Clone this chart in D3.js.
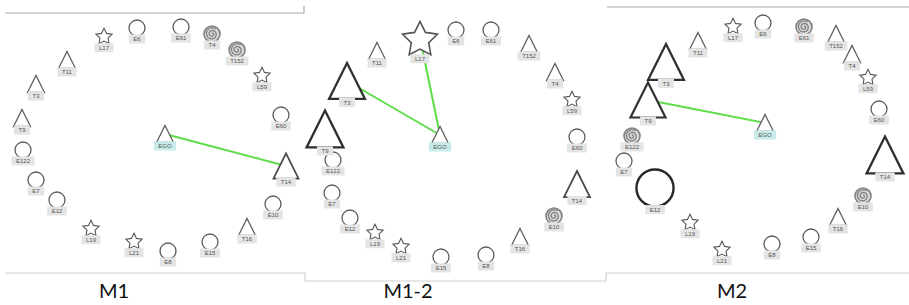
<!DOCTYPE html>
<html>
<head>
<meta charset="utf-8">
<script src="https://cdn.jsdelivr.net/npm/d3@7"></script>
<style>
  body { margin: 0; background: #fff; }
  svg { display: block; }
  .tag rect { fill: #e4e4e4; }
  .tag text { font: 6px "Liberation Sans", Arial, sans-serif; fill: #555; }
  .tag.ego rect { fill: #c8ebea; }
  .title { font: 20px Lato, "Open Sans", sans-serif; fill: #111; }
  .frame { fill: none; stroke: #cfcfcf; stroke-width: 1.2; }
</style>
</head>
<body>
<svg id="chart" width="909" height="305"></svg>
<script>
// node ids, same order for every panel
const nodeIds = ['EGO', 'L17', 'E6', 'E61', 'T4', 'T152', 'L59', 'E60', 'T14', 'E10', 'T16',
  'E15', 'E8', 'L21', 'L19', 'E12', 'E7', 'E122', 'T9', 'T3', 'T11'];
const panelTitles = ['M1', 'M1-2', 'M2'];

// layout coordinates (0..300 per panel)
const m1X = [165, 104, 137, 181, 212, 237, 262, 281, 286, 273, 247, 210, 168, 134, 91, 57, 36, 23, 22, 36, 67];
const m1Y = [134, 36, 28, 27, 34, 50, 75, 115, 166, 204, 227, 242, 251, 241, 228, 200, 180, 150, 118, 84, 60];
const m1Weight = [1, 1, 1, 1, 1, 1, 1, 1, 1.45, 1, 1, 1, 1, 1, 1, 1, 1, 1, 1, 1, 1];
const m1Spirals = ['T4', 'T152'];
const m1Links = [['EGO', 'T14']];

const m12X = [140, 120, 156, 191, 255, 229, 272, 277, 277, 254, 220, 141, 186, 101, 75, 50, 32, 33, 25, 47, 77];
const m12Y = [135, 38, 30, 30, 72, 44, 99, 137, 184, 216, 237, 257, 255, 246, 232, 218, 193, 160, 129, 81, 51];
const m12Weight = [1, 2.1, 1, 1, 1, 1, 1, 1, 1.5, 1, 1, 1, 1, 1, 1, 1, 1, 1, 2.1, 2.05, 1];
const m12Spirals = ['E10'];
const m12Links = [['EGO', 'T3'], ['EGO', 'L17']];

const m2X = [165, 133, 163, 204, 252, 236, 268, 279, 285, 263, 238, 211, 172, 122, 90, 55, 24, 32, 48, 66, 98];
const m2Y = [123, 26, 23, 27, 54, 34, 77, 109, 155, 196, 217, 237, 244, 249, 222, 188, 161, 136, 100, 62, 41];
const m2Weight = [1, 1, 1, 1, 1, 1, 1, 1, 2.1, 1, 1, 1, 1, 1, 1, 2.25, 1, 1, 2.0, 2.05, 1];
const m2Spirals = ['E61', 'E122', 'E10'];
const m2Links = [['EGO', 'T9']];

const panels = [
  { title: panelTitles[0], left: 0, xs: m1X, ys: m1Y, weights: m1Weight, spirals: m1Spirals, links: m1Links, titleX: 114 },
  { title: panelTitles[1], left: 300, xs: m12X, ys: m12Y, weights: m12Weight, spirals: m12Spirals, links: m12Links, titleX: 408 },
  { title: panelTitles[2], left: 600, xs: m2X, ys: m2Y, weights: m2Weight, spirals: m2Spirals, links: m2Links, titleX: 732 }
];

const svg = d3.select('#chart');

// frame lines round the three screenshots
const frames = [
  [[5, 13], [304, 13], [304, 6]],
  [[5, 273], [305, 273], [305, 281], [606, 281], [606, 273], [909, 273]],
  [[607, 7], [909, 7]]
];
svg.selectAll('path.frame').data(frames).enter().append('path')
  .attr('class', 'frame')
  .attr('d', d3.line())
  .style('stroke', (d, i) => i === 1 ? '#d2d2d2' : '#a8a8a8');

const sizeScale = d3.scaleLinear().domain([1, 2]).range([8.5, 17.5]);
const strokeScale = d3.scaleLinear().domain([1, 2]).range([1.3, 2.2]);
const strokeColor = d3.scaleLinear().domain([1, 2.2]).range(['#5c5c5c', '#2a2a2a']);

function kindOf(id, spirals) {
  if (spirals.includes(id)) return 'spiral';
  if (id === 'EGO' || id[0] === 'T') return 'triangle';
  if (id[0] === 'L') return 'star';
  return 'circle';
}

const starLine = d3.lineRadial().curve(d3.curveLinearClosed);
const spiralLine = d3.lineRadial()
  .angle(t => t * 4.2 * Math.PI)
  .radius(t => t)
  .curve(d3.curveBasis);

panels.forEach(p => {
  const x = d3.scaleLinear().domain([0, 300]).range([p.left, p.left + 300]);
  const y = d3.scaleLinear().domain([0, 300]).range([0, 300]);

  const nodes = nodeIds.map((id, i) => {
    const s = sizeScale(p.weights[i]);
    return { id, x: x(p.xs[i]), y: y(p.ys[i]), w: p.weights[i], s, kind: kindOf(id, p.spirals) };
  });
  const byId = new Map(nodes.map(n => [n.id, n]));

  const g = svg.append('g');

  g.selectAll('line.link').data(p.links).enter().append('line')
    .attr('class', 'link')
    .attr('x1', d => byId.get(d[0]).x).attr('y1', d => byId.get(d[0]).y)
    .attr('x2', d => byId.get(d[1]).x).attr('y2', d => byId.get(d[1]).y)
    .style('stroke', '#5fdc4a').style('stroke-width', 2);

  const node = g.selectAll('g.node').data(nodes).enter().append('g')
    .attr('class', 'node')
    .attr('transform', d => `translate(${d.x},${d.y})`);

  node.each(function(d) {
    const el = d3.select(this);
    const sw = strokeScale(d.w);
    const sc = strokeColor(d.w);
    if (d.kind === 'circle') {
      d.r = d.s * 0.94;
      el.append('circle').attr('r', d.r)
        .style('fill', '#fff').style('stroke', sc).style('stroke-width', sw);
      d.labelY = d.r + 3;
    } else if (d.kind === 'triangle') {
      const h = d.s;
      el.append('path')
        .attr('d', d3.line()([[0, -h], [h, h], [-h, h]]) + 'Z')
        .style('fill', '#fff').style('stroke', sc).style('stroke-width', sw)
        .style('stroke-linejoin', 'miter');
      d.labelY = h + 3.5;
    } else if (d.kind === 'star') {
      const R = d.s;
      const pts = d3.range(10).map(k => [k * Math.PI / 5, k % 2 ? R * 0.5 : R]);
      el.append('path')
        .attr('transform', `translate(0,${R * 0.1})`)
        .attr('d', starLine(pts))
        .style('fill', '#fff').style('stroke', d.w > 1 ? '#555' : sc).style('stroke-width', d.w > 1 ? 1.6 : sw * 0.9);
      d.labelY = R * 0.91 + 4;
    } else {
      const r = d.s * 0.94;
      el.append('circle').attr('r', r)
        .style('fill', '#d9d9d9').style('stroke', '#808080').style('stroke-width', 1.6);
      const ts = d3.range(0, 1.001, 0.02);
      el.append('path')
        .attr('d', spiralLine.radius(t => r * (0.1 + 0.72 * t))(ts))
        .style('fill', 'none').style('stroke', '#808080').style('stroke-width', 1.3);
      d.labelY = r + 3;
    }
  });

  const tag = node.append('g')
    .attr('class', d => d.id === 'EGO' ? 'tag ego' : 'tag')
    .attr('transform', d => `translate(0,${d.labelY})`);
  tag.append('rect');
  tag.append('text')
    .attr('text-anchor', 'middle')
    .attr('dy', '0.35em')
    .text(d => d.id);
  tag.each(function() {
    const t = d3.select(this);
    const w = t.select('text').node().getComputedTextLength() + 9;
    t.select('rect').attr('x', -w / 2).attr('y', -4.5).attr('width', w).attr('height', 9);
  });

  svg.append('text')
    .attr('class', 'title')
    .attr('x', p.titleX)
    .attr('y', 298)
    .attr('text-anchor', 'middle')
    .text(p.title);
});
</script>
</body>
</html>
